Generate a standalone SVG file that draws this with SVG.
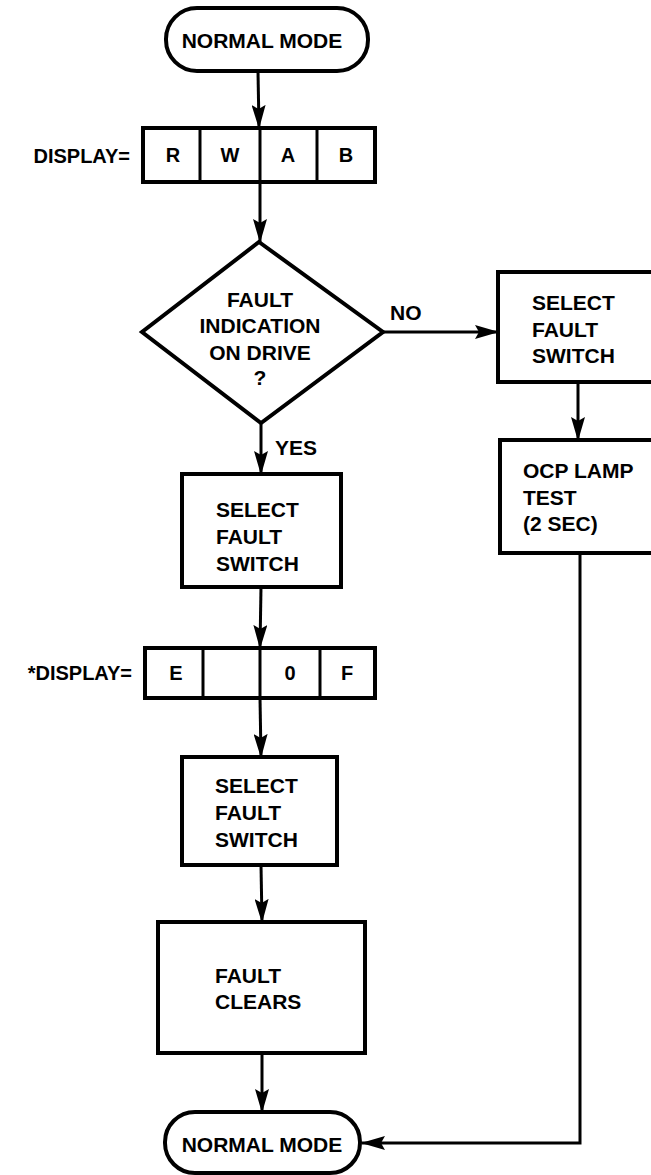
<svg xmlns="http://www.w3.org/2000/svg" width="651" height="1175" viewBox="0 0 651 1175">
<style>
.b{fill:#fff;stroke:#000;stroke-width:4;stroke-linejoin:miter}
.t{font-family:"Liberation Sans",Arial,sans-serif;font-weight:bold;font-size:21px;fill:#000}
.l{font-family:"Liberation Sans",Arial,sans-serif;font-weight:bold;font-size:20px;fill:#000;text-anchor:end}
.s{font-family:"Liberation Sans",Arial,sans-serif;font-weight:bold;font-size:20px;fill:#000;text-anchor:middle}
.c{fill:none;stroke:#000;stroke-width:3}
.d{stroke:#000;stroke-width:3}
</style>
<defs>
<marker id="ah" markerUnits="userSpaceOnUse" markerWidth="24" markerHeight="14" refX="23" refY="7" orient="auto">
<path d="M0,0 L24,7 L0,14 L4,7 z" fill="#000"/>
</marker>
</defs>
<rect width="651" height="1175" fill="#fff"/>
<g id="connectors">
<line class="c" x1="258" y1="72" x2="259" y2="128" marker-end="url(#ah)"/>
<line class="c" x1="260" y1="182" x2="260" y2="242" marker-end="url(#ah)"/>
<line class="c" x1="261" y1="423" x2="261" y2="474" marker-end="url(#ah)"/>
<line class="c" x1="383" y1="332" x2="498" y2="332" marker-end="url(#ah)"/>
<line class="c" x1="578" y1="382" x2="578" y2="440" marker-end="url(#ah)"/>
<line class="c" x1="261" y1="587" x2="260" y2="648" marker-end="url(#ah)"/>
<line class="c" x1="260" y1="698" x2="261" y2="757" marker-end="url(#ah)"/>
<line class="c" x1="261" y1="865" x2="262" y2="922" marker-end="url(#ah)"/>
<line class="c" x1="262" y1="1053" x2="262" y2="1112" marker-end="url(#ah)"/>
<polyline class="c" points="580,553 580,1143 362,1143" marker-end="url(#ah)"/>
<text class="t" x="275" y="455">YES</text>
<text class="t" x="390" y="320">NO</text>
</g>
<g id="start">
<rect class="b" x="166" y="8" width="202" height="63" rx="31" ry="31"/>
<text class="t" x="262" y="48" text-anchor="middle">NORMAL MODE</text>
</g>
<g id="display1">
<text class="l" x="130" y="163">DISPLAY=</text>
<rect class="b" x="143" y="128" width="232" height="54"/>
<line class="d" x1="200" y1="128" x2="200" y2="182"/>
<line class="d" x1="260" y1="128" x2="260" y2="182"/>
<line class="d" x1="317" y1="128" x2="317" y2="182"/>
<text class="s" x="173" y="162">R</text>
<text class="s" x="230" y="162">W</text>
<text class="s" x="288" y="162">A</text>
<text class="s" x="346" y="162">B</text>
</g>
<g id="decision">
<polygon class="b" points="259,242 383,332 261,423 142,332"/>
<text class="t" text-anchor="middle" x="260" y="307">FAULT</text>
<text class="t" text-anchor="middle" x="260" y="333">INDICATION</text>
<text class="t" text-anchor="middle" x="260" y="360">ON DRIVE</text>
<text class="t" text-anchor="middle" x="260" y="385">?</text>
</g>
<g id="select-right">
<rect class="b" x="498" y="272" width="160" height="110"/>
<text class="t" x="532" y="310">SELECT</text>
<text class="t" x="532" y="337">FAULT</text>
<text class="t" x="532" y="363">SWITCH</text>
</g>
<g id="lamp-test">
<rect class="b" x="500" y="440" width="160" height="113"/>
<text class="t" x="523" y="478">OCP LAMP</text>
<text class="t" x="523" y="505">TEST</text>
<text class="t" x="523" y="531">(2 SEC)</text>
</g>
<g id="select1">
<rect class="b" x="182" y="474" width="159" height="113"/>
<text class="t" x="216" y="517">SELECT</text>
<text class="t" x="216" y="544">FAULT</text>
<text class="t" x="216" y="571">SWITCH</text>
</g>
<g id="display2">
<text class="l" x="132" y="680">*DISPLAY=</text>
<rect class="b" x="145" y="648" width="230" height="50"/>
<line class="d" x1="203" y1="648" x2="203" y2="698"/>
<line class="d" x1="260" y1="648" x2="260" y2="698"/>
<line class="d" x1="320" y1="648" x2="320" y2="698"/>
<text class="s" x="176" y="680">E</text>
<text class="s" x="290" y="680">0</text>
<text class="s" x="347" y="680">F</text>
</g>
<g id="select2">
<rect class="b" x="182" y="757" width="155" height="108"/>
<text class="t" x="215" y="793">SELECT</text>
<text class="t" x="215" y="820">FAULT</text>
<text class="t" x="215" y="847">SWITCH</text>
</g>
<g id="fault-clears">
<rect class="b" x="158" y="922" width="207" height="131"/>
<text class="t" x="215" y="983">FAULT</text>
<text class="t" x="215" y="1009">CLEARS</text>
</g>
<g id="end">
<rect class="b" x="165" y="1112" width="195" height="61" rx="30" ry="30"/>
<text class="t" x="262" y="1152" text-anchor="middle">NORMAL MODE</text>
</g>
</svg>
